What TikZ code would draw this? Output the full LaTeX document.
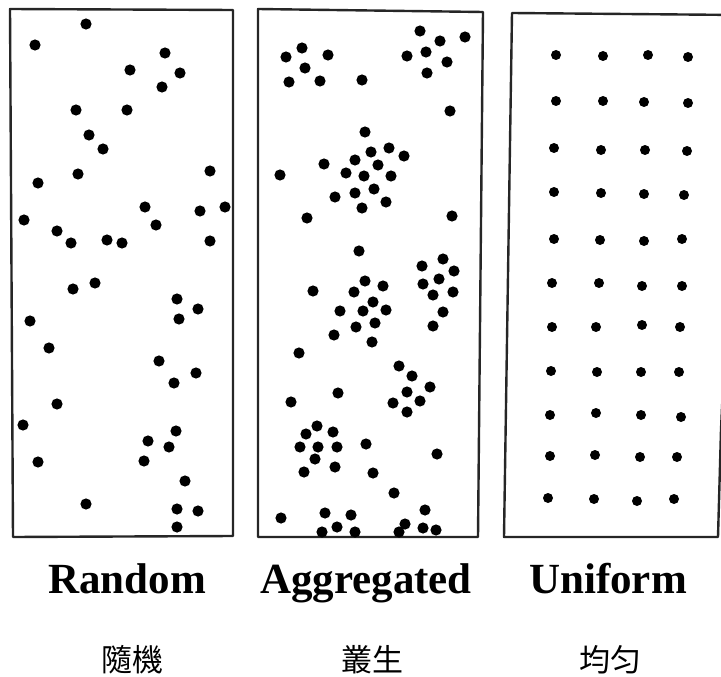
\documentclass[tikz,border=0pt]{standalone}
\usepackage{fontspec}
\setmainfont{Liberation Serif}
\newfontfamily\cjk{Noto Sans CJK TC}
\begin{document}
\begin{tikzpicture}[x=1pt,y=-1pt,
  dotA/.style={fill=black},
  frame/.style={draw=black!85, line width=2.4pt, line join=round},
  eng/.style={font=\fontsize{43}{43}\selectfont\bfseries, anchor=base, inner sep=0pt},
  chn/.style={font=\cjk\fontsize{31}{31}\selectfont, anchor=base, inner sep=0pt}]
\useasboundingbox (0,0) rectangle (721,677);
\begin{scope}
\clip (0,0) rectangle (721,677);
% frames
\draw[frame] (10,9) -- (233,10) -- (233,536) -- (13,537) -- cycle;
\draw[frame] (258,9) -- (483,12) -- (478,537) -- (258,537) -- cycle;
\draw[frame] (740,15) -- (512,13) -- (504,537) -- (718,537) -- (721,430) -- (740,13);
% random
\foreach \x/\y in {86/24,35/45,165/53,130/70,180/73,162/87,76/110,127/110,89/135,103/149,210/171,78/174,38/183,145/207,200/211,225/207,24/220,156/225,57/231,71/243,107/240,122/243,210/241,
95/283,73/289,177/299,198/309,179/319,30/321,49/348,159/361,196/373,174/383,57/404,23/425,176/431,148/441,169/447,38/462,144/461,185/481,86/504,177/509,198/511,177/527}
  \fill[dotA] (\x,\y) circle[radius=5.6];
% aggregated
\foreach \x/\y in {420/31,465/37,440/41,302/48,286/57,328/55,426/52,407/56,447/62,305/68,427/73,289/82,320/81,362/80,450/111,365/132,389/148,371/152,404/156,355/160,324/164,378/165,280/175,346/173,364/176,391/176,374/189,335/197,355/193,362/208,386/202,307/218,452/216,359/251,443/259,422/266,454/271,
365/281,439/279,383/286,423/284,313/291,354/292,453/292,433/295,373/302,340/311,363/311,386/310,443/312,375/323,356/327,433/326,334/335,372/342,299/353,399/366,412/376,430/387,338/393,407/392,291/402,420/401,393/403,407/412,317/426,306/434,333/432,300/447,318/447,337/447,366/444,437/454,315/459,335/467,304/472,373/473,394/493,425/510,281/518,325/513,351/515,405/524,337/527,423/528,436/530,322/532,355/532,399/532}
  \fill[dotA] (\x,\y) circle[radius=5.6];
% uniform
\foreach \x/\y in {556/55,603/56,648/55,688/57,
556/101,603/101,644/102,688/103,
554/148,601/150,645/150,687/151,
554/192,601/193,644/194,684/195,
554/239,600/240,644/241,682/239,
552/283,599/283,642/286,682/286,
552/327,596/327,642/325,680/327,
551/371,597/372,641/372,679/372,
550/415,596/413,641/415,681/417,
550/456,595/455,640/457,677/457,
548/498,594/499,637/501,674/499}
  \fill[dotA] (\x,\y) circle[radius=5];
\end{scope}
% labels
\node[eng] (lr) at (127,593) {Random};
\node[eng] (la) at (366,593) {Aggregated};
\node[eng] (lu) at (608,593) {Uniform};
\node[chn] (cr) at (132,671) {隨機};
\node[chn] (ca) at (372,671) {叢生};
\node[chn] (cu) at (610,671) {均匀};
\end{tikzpicture}
\end{document}
